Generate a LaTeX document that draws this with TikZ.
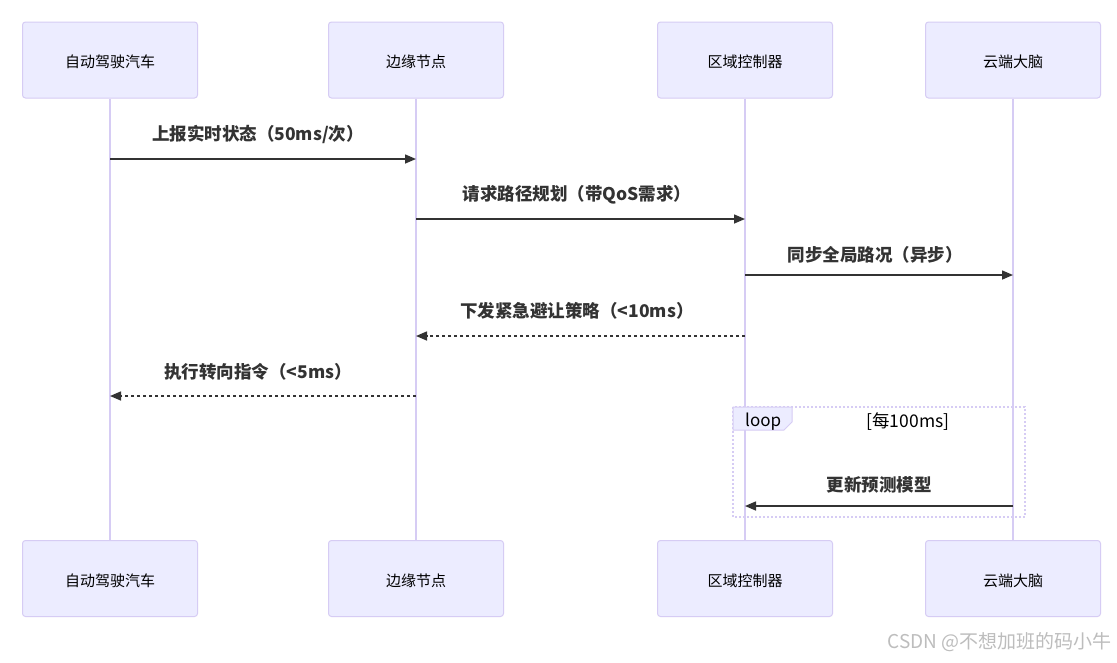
\documentclass[tikz,border=0pt]{standalone}
\usepackage{fontspec}
\setmainfont{Noto Sans CJK SC}
\usetikzlibrary{arrows.meta}
\definecolor{actfill}{HTML}{ECECFF}
\definecolor{actline}{HTML}{D6CCF4}
\definecolor{msgc}{HTML}{333333}
\definecolor{wmark}{HTML}{BDBDBD}
\tikzset{
  actor/.style={draw=actline, fill=actfill, line width=1pt, rounded corners=3pt,
    minimum width=175pt, minimum height=76pt, inner sep=0pt,
    label={[font=\fontsize{15}{17}\selectfont, text=black, yshift=-2pt]center:#1}},
  lifeline/.style={draw=actline, line width=1.5pt},
  msg/.style={draw=msgc, line width=1.5pt, -{Triangle[length=11pt,width=9pt]}},
  dmsg/.style={msg, dash pattern=on 3pt off 3pt},
  mlabel/.style={font=\fontsize{17.5}{19}\selectfont\bfseries, text=msgc, inner sep=0pt},
}
\begin{document}
\begin{tikzpicture}[x=1pt,y=-1pt]
\useasboundingbox[fill=white] (0,0) rectangle (1117,662);
% actors
\node[actor=自动驾驶汽车] (a1) at (110,60) {};
\node[actor=边缘节点] (a2) at (416,60) {};
\node[actor=区域控制器] (a3) at (745,60) {};
\node[actor=云端大脑] (a4) at (1013,60) {};
\node[actor=自动驾驶汽车] (b1) at (110,578.5) {};
\node[actor=边缘节点] (b2) at (416,578.5) {};
\node[actor=区域控制器] (b3) at (745,578.5) {};
\node[actor=云端大脑] (b4) at (1013,578.5) {};
% lifelines
\draw[lifeline] (a1.south) -- (b1.north);
\draw[lifeline] (a2.south) -- (b2.north);
\draw[lifeline] (a3.south) -- (b3.north);
\draw[lifeline] (a4.south) -- (b4.north);
% loop frame
\draw[actline, line width=1.5pt, dash pattern=on 2pt off 2pt] (733,407) rectangle (1025,517);
\draw[actline, fill=actfill, line width=1pt] (733,407) -- (792,407) -- (792,422) -- (784,430) -- (733,430) -- cycle;
\node[font=\fontsize{17}{19}\selectfont, text=black, anchor=west, inner sep=0pt] (lp) at (745,422) {loop};
\node[font=\fontsize{17.5}{19}\selectfont, text=black, inner sep=0pt] (lc) at (908,422) {[每100ms]};
% message end points
\coordinate (m1s) at (a1 |- 0,159); \coordinate (m1e) at (a2 |- 0,159);
\coordinate (m2s) at (a2 |- 0,219); \coordinate (m2e) at (a3 |- 0,219);
\coordinate (m3s) at (a3 |- 0,275); \coordinate (m3e) at (a4 |- 0,275);
\coordinate (m4s) at (a3 |- 0,336); \coordinate (m4e) at (a2 |- 0,336);
\coordinate (m5s) at (a2 |- 0,396); \coordinate (m5e) at (a1 |- 0,396);
\coordinate (m6s) at (a4 |- 0,506); \coordinate (m6e) at (a3 |- 0,506);
% messages
\draw[msg] (m1s) -- (m1e);
\node[mlabel] (l1) at (258,134) {上报实时状态（50ms/次）};
\draw[msg] (m2s) -- (m2e);
\node[mlabel] (l2) at (577,195) {请求路径规划（带QoS需求）};
\draw[msg] (m3s) -- (m3e);
\node[mlabel] (l3) at (875,255) {同步全局路况（异步）};
\draw[dmsg] (m4s) -- (m4e);
\node[mlabel] (l4) at (577,311) {下发紧急避让策略（<10ms）};
\draw[dmsg] (m5s) -- (m5e);
\node[mlabel] (l5) at (258,372) {执行转向指令（<5ms）};
\draw[msg] (m6s) -- (m6e);
\node[mlabel] (l6) at (879,485) {更新预测模型};
% watermark
\node[font=\fontsize{19}{21}\selectfont, text=wmark, anchor=east, inner sep=0pt] (wm) at (1112,642) {CSDN @不想加班的码小牛};
\end{tikzpicture}
\end{document}
